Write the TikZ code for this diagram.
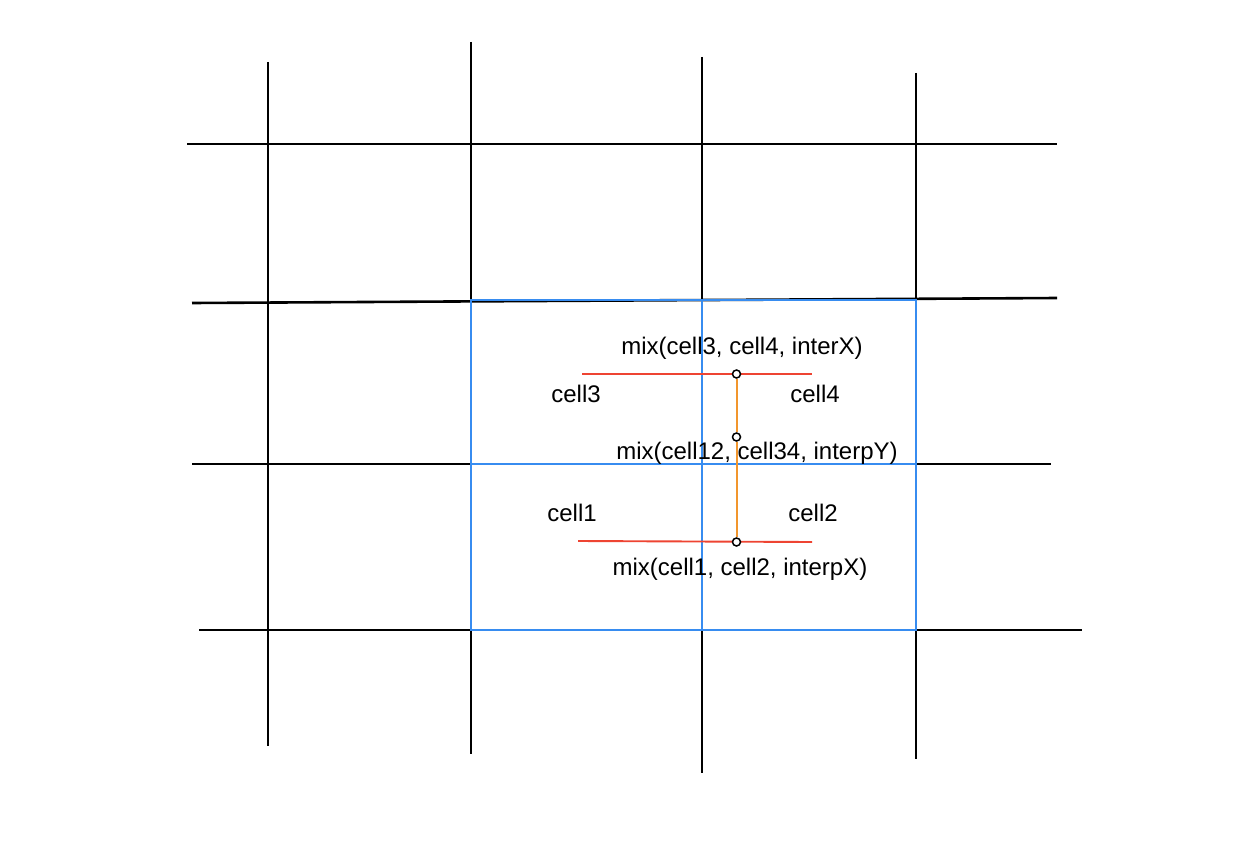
\documentclass[tikz,border=0pt]{standalone}
\usepackage{fontspec}
\setmainfont{Liberation Sans}
\definecolor{cellblue}{RGB}{55,140,240}
\definecolor{mixred}{RGB}{238,68,50}
\definecolor{mixorange}{RGB}{242,150,45}
\begin{document}
\begin{tikzpicture}[x=1pt,y=-1pt,
  gridline/.style={draw=black,line width=2.6pt},
  blueline/.style={draw=cellblue,line width=2.6pt},
  redline/.style={draw=mixred,line width=1.9pt},
  orangeline/.style={draw=mixorange,line width=2pt},
  lbl/.style={anchor=base,inner sep=0pt,font=\fontsize{24}{29}\selectfont},
  dot/.style={circle,draw=black,line width=1.5pt,fill=white,minimum size=8pt,inner sep=0pt}]
\useasboundingbox[fill=white] (0,0) rectangle (1246,840);
% grid coordinates
\coordinate (v1t) at (268,62);  \coordinate (v1b) at (268,746);
\coordinate (v2t) at (471,42);  \coordinate (v2b) at (471,754);
\coordinate (v3t) at (702,57);  \coordinate (v3b) at (702,773);
\coordinate (v4t) at (916,73);  \coordinate (v4b) at (916,759);
\coordinate (h1l) at (187,144); \coordinate (h1r) at (1057,144);
\coordinate (h2l) at (192,303); \coordinate (h2r) at (1057,298);
\coordinate (h3l) at (192,464); \coordinate (h3r) at (1051,464);
\coordinate (h4l) at (199,630); \coordinate (h4r) at (1082,630);
\draw[gridline] (v1t) -- (v1b);
\draw[gridline] (v2t) -- (v2b);
\draw[gridline] (v3t) -- (v3b);
\draw[gridline] (v4t) -- (v4b);
\draw[gridline] (h1l) -- (h1r);
\draw[gridline] (h2l) -- (h2r);
\draw[gridline] (h3l) -- (h3r);
\draw[gridline] (h4l) -- (h4r);
% blue cells
\coordinate (b1) at (471,300); \coordinate (b2) at (916,630);
\coordinate (bmt) at (702,300); \coordinate (bmb) at (702,630);
\coordinate (bml) at (471,464); \coordinate (bmr) at (916,464);
\draw[blueline] (b1) rectangle (b2);
\draw[blueline] (bmt) -- (bmb);
\draw[blueline] (bml) -- (bmr);
% interpolation lines
\coordinate (r1l) at (582,374); \coordinate (r1r) at (812,374);
\coordinate (r2l) at (578,541); \coordinate (r2r) at (812,542);
\draw[redline] (r1l) -- (r1r);
\draw[redline] (r2l) -- (r2r);
\node[dot] (ptop) at (736.5,374) {};
\node[dot] (pmid) at (736.5,437) {};
\node[dot] (pbot) at (736.5,542) {};
\draw[orangeline] (ptop) -- (pmid);
\draw[orangeline] (pmid) -- (pbot);
% labels
\node[lbl] (t34) at (742,354) {mix(cell3, cell4, interX)};
\node[lbl] (c3) at (576,402) {cell3};
\node[lbl] (c4) at (815,402) {cell4};
\node[lbl] (tmid) at (757,459) {mix(cell12, cell34, interpY)};
\node[lbl] (c1) at (572,521) {cell1};
\node[lbl] (c2) at (813,521) {cell2};
\node[lbl] (t12) at (740,575) {mix(cell1, cell2, interpX)};
\end{tikzpicture}
\end{document}
